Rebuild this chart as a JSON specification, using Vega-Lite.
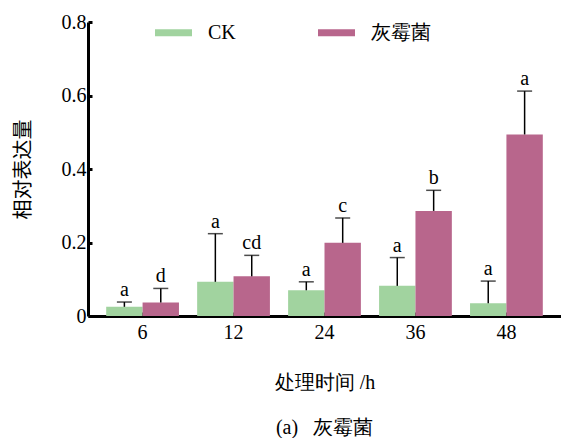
{
  "$schema": "https://vega.github.io/schema/vega-lite/v6.json",
  "width": 473,
  "height": 294,
  "autosize": {"type": "none"},
  "padding": {"left": 88, "top": 22, "right": 0, "bottom": 122},
  "background": "white",
  "title": {
    "text": "(a)\u2002 灰霉菌",
    "orient": "bottom",
    "anchor": "middle",
    "offset": 26,
    "font": "serif",
    "fontSize": 20,
    "fontWeight": "normal",
    "color": "black"
  },
  "config": {
    "view": {"stroke": null},
    "axis": {
      "domainColor": "black",
      "tickColor": "black",
      "labelColor": "black",
      "titleColor": "black",
      "grid": false,
      "labelFont": "serif",
      "labelFontSize": 20,
      "titleFontWeight": "normal"
    }
  },
  "data": {
    "values": [
      {"time": "6", "group": "CK", "value": 0.025, "upper": 0.038, "letter": "a"},
      {"time": "6", "group": "灰霉菌", "value": 0.037, "upper": 0.075, "letter": "d"},
      {"time": "12", "group": "CK", "value": 0.093, "upper": 0.224, "letter": "a"},
      {"time": "12", "group": "灰霉菌", "value": 0.108, "upper": 0.165, "letter": "cd"},
      {"time": "24", "group": "CK", "value": 0.070, "upper": 0.093, "letter": "a"},
      {"time": "24", "group": "灰霉菌", "value": 0.199, "upper": 0.267, "letter": "c"},
      {"time": "36", "group": "CK", "value": 0.082, "upper": 0.159, "letter": "a"},
      {"time": "36", "group": "灰霉菌", "value": 0.286, "upper": 0.342, "letter": "b"},
      {"time": "48", "group": "CK", "value": 0.035, "upper": 0.095, "letter": "a"},
      {"time": "48", "group": "灰霉菌", "value": 0.494, "upper": 0.612, "letter": "a"}
    ]
  },
  "encoding": {
    "x": {
      "field": "time",
      "type": "ordinal",
      "sort": ["6", "12", "24", "36", "48"],
      "scale": {"paddingInner": 0.2, "paddingOuter": 0.2},
      "axis": {
        "title": "处理时间 /h",
        "titleFont": "serif",
        "titleFontSize": 20,
        "titlePadding": 30,
        "labelAngle": 0,
        "domainWidth": 3,
        "tickSize": -4,
        "tickWidth": 3,
        "labelPadding": 10
      }
    },
    "xOffset": {
      "field": "group",
      "type": "nominal",
      "sort": ["CK", "灰霉菌"]
    },
    "y": {
      "field": "value",
      "type": "quantitative",
      "scale": {"domain": [0, 0.8], "nice": false},
      "axis": {
        "title": "相对表达量",
        "titleFont": "Noto Sans CJK SC",
        "titleFontSize": 20,
        "titlePadding": 28,
        "values": [0, 0.2, 0.4, 0.6, 0.8],
        "labelExpr": "datum.value == 0 ? '0' : format(datum.value, '.1f')",
        "domainWidth": 3,
        "tickSize": -4,
        "tickWidth": 3,
        "labelPadding": 6
      }
    }
  },
  "layer": [
    {
      "mark": {"type": "bar"},
      "encoding": {
        "color": {
          "field": "group",
          "type": "nominal",
          "scale": {"domain": ["CK", "灰霉菌"], "range": ["#a1d39f", "#b8668c"]},
          "legend": {
            "orient": "none",
            "legendX": 67,
            "legendY": -8,
            "direction": "horizontal",
            "title": null,
            "symbolType": "M-1,-0.19H1V0.19H-1Z",
            "symbolSize": 1369,
            "symbolStrokeWidth": 0,
            "labelFont": "serif",
            "labelFontSize": 20,
            "labelColor": "black",
            "labelOffset": 16,
            "columnPadding": 82
          }
        }
      }
    },
    {
      "mark": {"type": "rule", "color": "black", "strokeWidth": 1.5},
      "encoding": {"y2": {"field": "upper"}}
    },
    {
      "mark": {"type": "tick", "color": "black", "thickness": 1.5, "size": 15},
      "encoding": {"y": {"field": "upper", "type": "quantitative"}}
    },
    {
      "mark": {"type": "text", "color": "black", "font": "serif", "fontSize": 20, "dy": -6, "baseline": "alphabetic"},
      "encoding": {
        "y": {"field": "upper", "type": "quantitative"},
        "text": {"field": "letter"}
      }
    }
  ]
}
